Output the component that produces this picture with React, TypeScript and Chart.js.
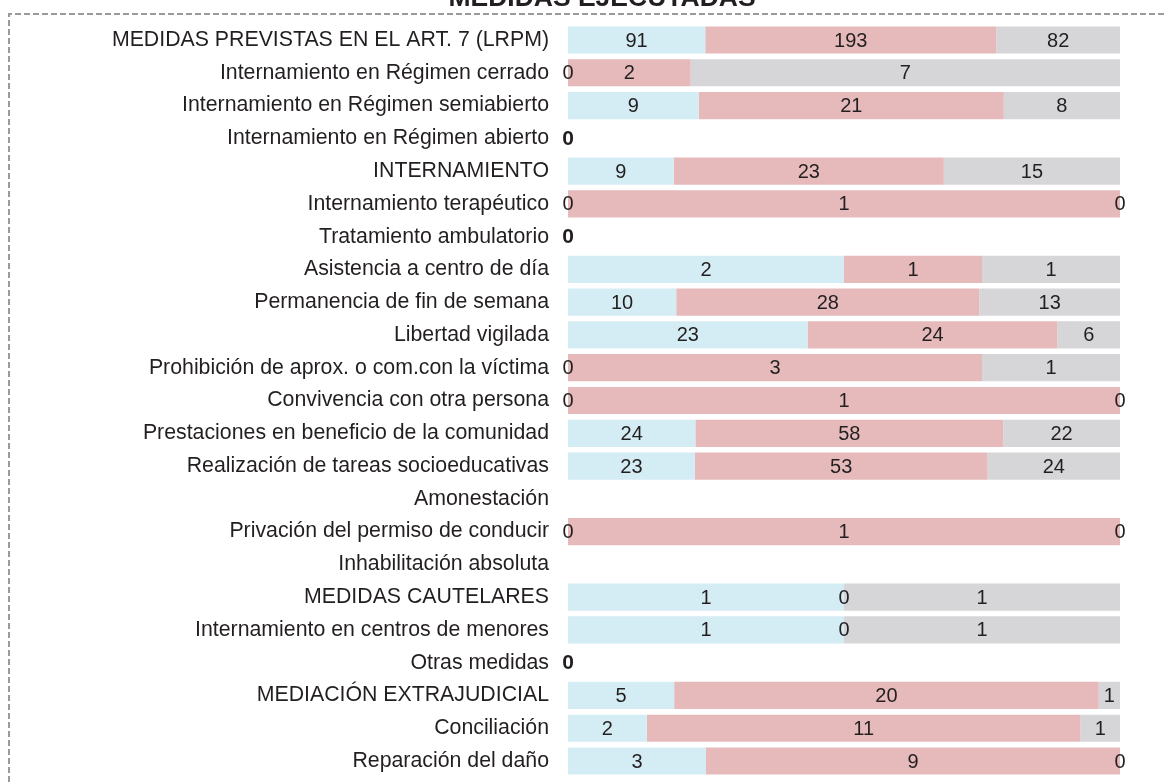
import React, { useEffect, useRef } from "react";
import { Chart, registerables } from "chart.js";

Chart.register(...registerables);

const categories = [
  "MEDIDAS PREVISTAS EN EL ART. 7 (LRPM)",
  "Internamiento en Régimen cerrado",
  "Internamiento en Régimen semiabierto",
  "Internamiento en Régimen abierto",
  "INTERNAMIENTO",
  "Internamiento terapéutico",
  "Tratamiento ambulatorio",
  "Asistencia a centro de día",
  "Permanencia de fin de semana",
  "Libertad vigilada",
  "Prohibición de aprox. o com.con la víctima",
  "Convivencia con otra persona",
  "Prestaciones en beneficio de la comunidad",
  "Realización de tareas socioeducativas",
  "Amonestación",
  "Privación del permiso de conducir",
  "Inhabilitación absoluta",
  "MEDIDAS CAUTELARES",
  "Internamiento en centros de menores",
  "Otras medidas",
  "MEDIACIÓN EXTRAJUDICIAL",
  "Conciliación",
  "Reparación del daño",
];

const serieAzul: (number | null)[] = [91, 0, 9, 0, 9, 0, 0, 2, 10, 23, 0, 0, 24, 23, null, 0, null, 1, 1, 0, 5, 2, 3];
const serieRosa: (number | null)[] = [193, 2, 21, 0, 23, 1, 0, 1, 28, 24, 3, 1, 58, 53, null, 1, null, 0, 0, 0, 20, 11, 9];
const serieGris: (number | null)[] = [82, 7, 8, 0, 15, 0, 0, 1, 13, 6, 1, 0, 22, 24, null, 0, null, 1, 1, 0, 1, 1, 0];

const rawSeries = [serieAzul, serieRosa, serieGris];
const colors = ["#d4edf4", "#e6babb", "#d6d6d8"];

const totals = categories.map((_, j) =>
  rawSeries.reduce((s, arr) => s + (arr[j] ?? 0), 0)
);

const pct = (arr: (number | null)[]) =>
  arr.map((v, j) => (v === null ? null : totals[j] > 0 ? (v / totals[j]) * 100 : 0));

const FONT = "'Liberation Sans', Arial, sans-serif";
const TEXT = "#231f20";

const decorPlugin = {
  id: "decor",
  beforeDraw(chart: any) {
    const ctx = chart.ctx;
    ctx.save();
    ctx.strokeStyle = "#9b9b9b";
    ctx.lineWidth = 2;
    ctx.setLineDash([6, 3]);
    ctx.beginPath();
    ctx.moveTo(9, 800);
    ctx.lineTo(9, 14);
    ctx.lineTo(1170, 14);
    ctx.stroke();
    ctx.setLineDash([]);
    ctx.fillStyle = TEXT;
    ctx.font = `bold 26.5px ${FONT}`;
    ctx.textAlign = "center";
    ctx.textBaseline = "alphabetic";
    ctx.fillText("MEDIDAS EJECUTADAS", 602, 6);
    ctx.restore();
  },
  afterDatasetsDraw(chart: any) {
    const ctx = chart.ctx;
    const xScale = chart.scales.x;
    ctx.save();
    ctx.fillStyle = TEXT;
    ctx.textAlign = "center";
    ctx.textBaseline = "middle";
    categories.forEach((_, j) => {
      if (rawSeries[0][j] === null) return;
      if (totals[j] === 0) {
        const el = chart.getDatasetMeta(0).data[j];
        ctx.font = `bold 21px ${FONT}`;
        ctx.fillText("0", xScale.getPixelForValue(0), el.y + 1);
        return;
      }
      rawSeries.forEach((arr, i) => {
        const el: any = chart.getDatasetMeta(i).data[j];
        if (!el) return;
        ctx.font = `20px ${FONT}`;
        ctx.fillText(String(arr[j]), (el.x + el.base) / 2, el.y + 1);
      });
    });
    ctx.restore();
  },
};

export default function App() {
  const ref = useRef<HTMLCanvasElement>(null);
  useEffect(() => {
    if (!ref.current) return;
    const chart: any = new Chart(ref.current, {
      type: "bar",
      data: {
        labels: categories,
        datasets: rawSeries.map((arr, i) => ({
          label: ["A", "B", "C"][i],
          data: pct(arr),
          backgroundColor: colors[i],
          borderWidth: 0,
          barPercentage: 0.83,
          categoryPercentage: 1,
        })),
      },
      options: {
        indexAxis: "y",
        animation: false,
        responsive: false,
        maintainAspectRatio: false,
        layout: { padding: { top: 23.6, bottom: 4.6, left: 0, right: 46 } },
        plugins: {
          legend: { display: false },
          tooltip: { enabled: false },
          title: { display: false },
        },
        scales: {
          x: {
            stacked: true,
            min: 0,
            max: 100,
            display: false,
          },
          y: {
            stacked: true,
            grid: { display: false, drawTicks: false },
            border: { display: false },
            ticks: {
              color: TEXT,
              padding: 19,
              font: { size: 21.3, family: FONT },
              autoSkip: false,
            },
            afterFit(scale: any) {
              scale.width = 568;
              scale.paddingTop = 0;
              scale.paddingBottom = 0;
            },
          },
        },
      },
      plugins: [decorPlugin],
    });
    return () => chart.destroy();
  }, []);
  return (
    <div style={{ position: "absolute", left: 0, top: 0, width: 1166, height: 782, overflow: "hidden", background: "#fff" }}>
      <canvas ref={ref} width={1166} height={782} style={{ display: "block" }} />
    </div>
  );
}
